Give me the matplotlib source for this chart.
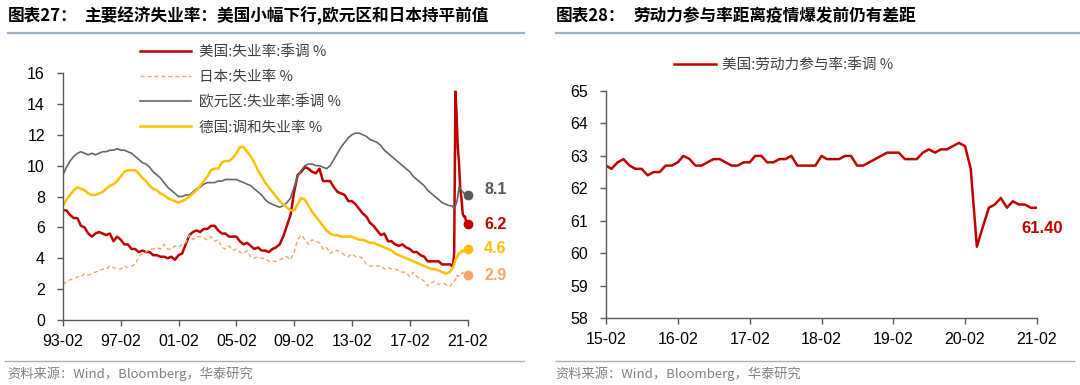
import numpy as np
import pandas as pd
import matplotlib
matplotlib.use('Agg')
import matplotlib.pyplot as plt
import matplotlib.dates as mdates
from matplotlib.lines import Line2D

plt.rcParams['font.family'] = ['Liberation Sans', 'Noto Sans CJK SC']
CJK = ['Noto Sans CJK SC', 'DejaVu Sans']

# ---- left chart: unemployment, quarterly 1993-02..2019-11, then monthly 2019-12..2021-02
q_dates = pd.date_range('1993-02-01', '2019-11-01', freq='3MS')
m_dates = pd.date_range('2019-12-01', '2021-02-01', freq='MS')

us_q = [7.1, 7.1, 6.8, 6.6, 6.6, 6.1, 6.0, 5.6, 5.4, 5.6, 5.7, 5.6, 5.5, 5.6, 5.1, 5.4,
        5.2, 4.9, 4.9, 4.6, 4.6, 4.4, 4.5, 4.4, 4.4, 4.2, 4.2, 4.1, 4.1, 4.0, 4.1, 3.9,
        4.2, 4.3, 4.9, 5.5, 5.7, 5.8, 5.7, 5.9, 5.9, 6.1, 6.1, 5.8, 5.6, 5.6, 5.4, 5.4,
        5.4, 5.1, 4.9, 5.0, 4.8, 4.6, 4.7, 4.5, 4.5, 4.4, 4.6, 4.7, 4.9, 5.4, 6.1, 6.8,
        8.3, 9.4, 9.6, 9.9, 9.8, 9.6, 9.5, 9.8, 9.0, 9.0, 9.0, 8.6, 8.3, 8.2, 8.1, 7.7,
        7.7, 7.5, 7.2, 6.9, 6.7, 6.3, 6.1, 5.8, 5.5, 5.6, 5.1, 5.1, 4.9, 4.8, 4.9, 4.7,
        4.6, 4.4, 4.4, 4.2, 4.1, 3.8, 3.8, 3.8, 3.8, 3.6, 3.6, 3.6]
us_m = [3.6, 3.5, 3.5, 4.4, 14.8, 13.3, 11.1, 10.2, 8.4, 7.9, 6.9, 6.7, 6.7, 6.3, 6.2]

jp_q = [2.3, 2.5, 2.6, 2.7, 2.8, 2.8, 3.0, 2.9, 3.0, 3.1, 3.2, 3.3, 3.3, 3.5, 3.4, 3.3,
        3.3, 3.5, 3.4, 3.5, 3.6, 4.1, 4.3, 4.4, 4.6, 4.6, 4.7, 4.6, 4.9, 4.6, 4.6, 4.8,
        4.7, 4.9, 5.0, 5.5, 5.2, 5.4, 5.4, 5.3, 5.2, 5.4, 5.1, 5.2, 4.7, 4.6, 4.8, 4.5,
        4.6, 4.4, 4.3, 4.5, 4.1, 4.0, 4.1, 4.0, 4.0, 3.8, 3.8, 3.8, 3.9, 4.0, 4.1, 3.9,
        4.4, 5.2, 5.5, 5.2, 4.9, 5.2, 5.1, 5.0, 4.6, 4.7, 4.3, 4.5, 4.5, 4.4, 4.2, 4.1,
        4.3, 4.1, 4.1, 4.0, 3.6, 3.5, 3.5, 3.5, 3.5, 3.3, 3.4, 3.3, 3.3, 3.2, 3.1, 3.1,
        2.8, 3.1, 2.8, 2.7, 2.5, 2.2, 2.4, 2.5, 2.3, 2.4, 2.3, 2.2]
jp_m = [2.2, 2.4, 2.4, 2.5, 2.6, 2.9, 2.8, 2.9, 3.0, 3.0, 3.1, 2.9, 3.0, 2.9, 2.9]

ez_q = [9.4, 9.9, 10.3, 10.6, 10.8, 10.9, 10.8, 10.7, 10.8, 10.7, 10.8, 10.9, 10.9, 11.0, 11.0, 11.1,
        11.0, 11.0, 10.9, 10.8, 10.6, 10.4, 10.2, 10.1, 9.9, 9.6, 9.4, 9.2, 8.9, 8.6, 8.4, 8.2,
        8.0, 8.0, 8.1, 8.1, 8.3, 8.5, 8.6, 8.8, 8.9, 8.9, 8.9, 9.0, 9.0, 9.1, 9.1, 9.1,
        9.1, 9.0, 8.9, 8.8, 8.7, 8.5, 8.3, 8.1, 7.8, 7.6, 7.5, 7.4, 7.3, 7.4, 7.6, 7.9,
        8.6, 9.3, 9.7, 10.0, 10.1, 10.1, 10.0, 10.0, 9.9, 9.8, 10.0, 10.4, 10.8, 11.2, 11.5, 11.8,
        12.0, 12.1, 12.1, 12.0, 11.9, 11.7, 11.6, 11.5, 11.3, 11.0, 10.8, 10.6, 10.4, 10.2, 10.0, 9.8,
        9.6, 9.3, 9.1, 8.9, 8.7, 8.4, 8.2, 8.0, 7.8, 7.6, 7.5, 7.4]
ez_m = [7.4, 7.4, 7.3, 7.2, 7.4, 7.6, 8.0, 8.6, 8.5, 8.4, 8.3, 8.2, 8.2, 8.1, 8.1]

de_q = [7.4, 7.8, 8.1, 8.4, 8.6, 8.5, 8.4, 8.2, 8.1, 8.1, 8.2, 8.3, 8.5, 8.7, 8.8, 9.0,
        9.3, 9.6, 9.7, 9.7, 9.7, 9.5, 9.2, 9.0, 8.7, 8.5, 8.4, 8.2, 8.1, 7.9, 7.8, 7.7,
        7.6, 7.7, 7.8, 8.0, 8.2, 8.4, 8.7, 9.0, 9.3, 9.7, 9.8, 9.8, 10.2, 10.3, 10.3, 10.5,
        10.8, 11.2, 11.2, 10.9, 10.6, 10.2, 9.7, 9.3, 8.9, 8.6, 8.3, 8.0, 7.7, 7.5, 7.3, 7.1,
        7.1, 7.5, 7.9, 7.8, 7.4, 7.0, 6.7, 6.4, 6.1, 5.8, 5.6, 5.5, 5.5, 5.4, 5.4, 5.4,
        5.4, 5.3, 5.2, 5.2, 5.1, 5.0, 5.0, 4.9, 4.8, 4.7, 4.6, 4.5, 4.3, 4.2, 4.1, 4.0,
        3.9, 3.8, 3.7, 3.6, 3.5, 3.4, 3.3, 3.3, 3.2, 3.1, 3.0, 3.1]
de_m = [3.2, 3.3, 3.4, 3.6, 3.9, 4.0, 4.2, 4.3, 4.4, 4.4, 4.5, 4.5, 4.5, 4.6, 4.6]

left_ticks = ['1993-02', '1997-02', '2001-02', '2005-02', '2009-02', '2013-02', '2017-02', '2021-02']

# ---- right chart: US labour force participation, monthly 2015-02..2021-02
lfpr_dates = pd.date_range('2015-02-01', '2021-02-01', freq='MS')
lfpr = [62.7, 62.6, 62.8, 62.9, 62.7, 62.6, 62.6, 62.4, 62.5, 62.5, 62.7,
        62.7, 62.8, 63.0, 62.9, 62.7, 62.7, 62.8, 62.9, 62.9, 62.8, 62.7, 62.7,
        62.8, 62.8, 63.0, 63.0, 62.8, 62.8, 62.9, 62.9, 63.0, 62.7, 62.7, 62.7,
        62.7, 63.0, 62.9, 62.9, 62.9, 63.0, 63.0, 62.7, 62.7, 62.8, 62.9, 63.0,
        63.1, 63.1, 63.1, 62.9, 62.9, 62.9, 63.1, 63.2, 63.1, 63.2, 63.2, 63.3,
        63.4, 63.3, 62.6, 60.2, 60.8, 61.4, 61.5, 61.7, 61.4, 61.6, 61.5, 61.5,
        61.4, 61.4]
right_ticks = ['2015-02', '2016-02', '2017-02', '2018-02', '2019-02', '2020-02', '2021-02']

RED = '#C00000'
GRAY = '#666666'
YEL = '#FFC000'
ORG = '#F4A46C'
SEP = '#9DB0C8'

dates = q_dates.append(m_dates)
us = us_q + us_m
jp = jp_q + jp_m
ez = ez_q + ez_m
de = de_q + de_m

fig = plt.figure(figsize=(10.8, 3.85), dpi=100)

def style_axes(ax):
	for s in ['top', 'right']:
		ax.spines[s].set_visible(False)
	for s in ['left', 'bottom']:
		ax.spines[s].set_color('#595959')
		ax.spines[s].set_linewidth(1.0)
	ax.tick_params(axis='y', direction='out', length=4, width=1, color='#595959', pad=9, labelsize=11.5)
	ax.tick_params(axis='x', direction='out', length=4, width=1, color='#595959', pad=6, labelsize=11.5)
	ax.xaxis.set_major_formatter(mdates.DateFormatter('%y-%m'))

# left
ax1 = fig.add_axes([0.0583, 0.1688, 0.3746, 0.6416])
l1, = ax1.plot(dates, us, color=RED, lw=1.8, label='美国:失业率:季调 %')
l2, = ax1.plot(dates, jp, color=ORG, lw=1.0, ls=(0, (3, 2)), label='日本:失业率 %')
l3, = ax1.plot(dates, ez, color=GRAY, lw=1.2, label='欧元区:失业率:季调 %')
l4, = ax1.plot(dates, de, color=YEL, lw=1.8, label='德国:调和失业率 %')
ax1.set_ylim(0, 16)
ax1.set_yticks(np.arange(0, 17, 2))
ax1.set_xlim(pd.Timestamp(left_ticks[0]), pd.Timestamp(left_ticks[-1]))
ax1.set_xticks([pd.Timestamp(t) for t in left_ticks])
style_axes(ax1)

end = dates[-1]
for vals, c, dy in [(ez, '#595959', 4), (us, RED, 0), (de, YEL, 0), (jp, ORG, 0)]:
	ax1.plot([end], [vals[-1]], 'o', color=c, ms=6, clip_on=False)
	ax1.annotate('%.1f' % vals[-1], (end, vals[-1]), xytext=(12, dy), textcoords='offset points',
		va='center', ha='left', color=c, fontsize=11.5, fontweight='bold', annotation_clip=False)

leg = fig.legend(handles=[l1, l2, l3, l4], loc='upper left', bbox_to_anchor=(139.5 / 1080, 1 - 45 / 385),
	frameon=False, prop={'family': CJK, 'size': 10.5}, handlelength=3.5, handletextpad=0.55,
	labelspacing=0.75, borderpad=0, borderaxespad=0)
for t in leg.get_texts():
	t.set_color('#404040')

# right
ax2 = fig.add_axes([0.5611, 0.1740, 0.3991, 0.5896])
r1, = ax2.plot(lfpr_dates, lfpr, color=RED, lw=1.8, label='美国:劳动力参与率:季调 %')
ax2.set_ylim(58, 65)
ax2.set_yticks(np.arange(58, 66, 1))
ax2.set_xlim(pd.Timestamp(right_ticks[0]), pd.Timestamp(right_ticks[-1]))
ax2.set_xticks([pd.Timestamp(t) for t in right_ticks])
style_axes(ax2)
ax2.annotate('%.2f' % lfpr[-1], (lfpr_dates[-1], lfpr[-1]), xytext=(4, -15), textcoords='offset points',
	va='center', ha='center', color=RED, fontsize=12, fontweight='bold', annotation_clip=False)
leg2 = fig.legend(handles=[r1], loc='upper left', bbox_to_anchor=(674 / 1080, 1 - 58.5 / 385),
	frameon=False, prop={'family': CJK, 'size': 10.5}, handlelength=2.85, handletextpad=0.47,
	borderpad=0, borderaxespad=0)
for t in leg2.get_texts():
	t.set_color('#404040')

# titles, separators, sources
ty = 1 - 16 / 385
fig.text(7.6 / 1080, ty, '图表27：', family=CJK, fontsize=12, fontweight='bold', va='center')
fig.text(84 / 1080, ty, '主要经济失业率：美国小幅下行,欧元区和日本持平前值', family=CJK, fontsize=12, fontweight='bold', va='center')
fig.text(555.5 / 1080, ty, '图表28：', family=CJK, fontsize=12, fontweight='bold', va='center')
fig.text(633 / 1080, ty, '劳动力参与率距离疫情爆发前仍有差距', family=CJK, fontsize=12, fontweight='bold', va='center')

fig.add_artist(Line2D([7.6 / 1080, 524 / 1080], [1 - 33 / 385] * 2, transform=fig.transFigure, color=SEP, lw=1.6))
fig.add_artist(Line2D([555.5 / 1080, 1079 / 1080], [1 - 33 / 385] * 2, transform=fig.transFigure, color=SEP, lw=1.6))
fig.add_artist(Line2D([5 / 1080, 524 / 1080], [1 - 361 / 385] * 2, transform=fig.transFigure, color=SEP, lw=1.0))
fig.add_artist(Line2D([555.5 / 1080, 1074 / 1080], [1 - 361 / 385] * 2, transform=fig.transFigure, color=SEP, lw=1.0))

sy = 1 - 374 / 385
fig.text(7.6 / 1080, sy, '资料来源：Wind，Bloomberg，华泰研究', family=CJK, fontsize=9.5, color='#808080', va='center')
fig.text(555.5 / 1080, sy, '资料来源：Wind，Bloomberg，华泰研究', family=CJK, fontsize=9.5, color='#808080', va='center')

fig.savefig('out.png', dpi=100)
